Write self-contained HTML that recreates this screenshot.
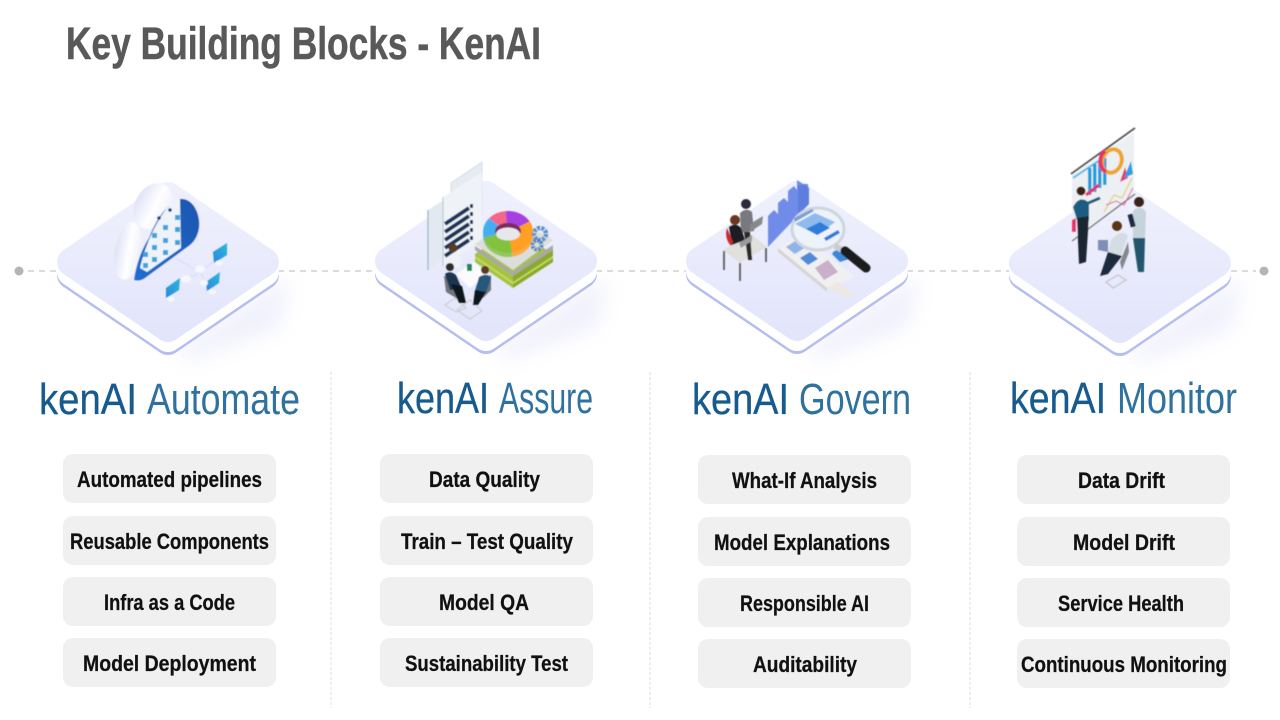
<!DOCTYPE html>
<html><head><meta charset="utf-8"><style>
html,body{margin:0;padding:0;background:#fff;width:1280px;height:720px;overflow:hidden}
svg{display:block}
text{font-family:"Liberation Sans",sans-serif}
.t{font-weight:bold;font-size:22px;fill:#111;stroke:#111;stroke-width:.25}
.h1{font-size:44px;fill:#175b8e;stroke:#175b8e;stroke-width:.3}
.h2{font-size:44px;fill:#2f719f}
.b{fill:#f0f0f0}
</style></head><body>
<svg width="1280" height="720" viewBox="0 0 1280 720" xmlns="http://www.w3.org/2000/svg">
<defs>
<linearGradient id="face" x1="0" y1="0" x2="0" y2="1"><stop offset="0" stop-color="#eff0fd"/><stop offset="1" stop-color="#e3e5fb"/></linearGradient>
<linearGradient id="cl" x1="0" y1="0" x2="1" y2="1"><stop offset="0" stop-color="#f6f7fe"/><stop offset="1" stop-color="#e2e5f8"/></linearGradient>
<linearGradient id="lobe" x1="0" y1="0" x2="1" y2="0"><stop offset="0" stop-color="#dfe2f6"/><stop offset=".55" stop-color="#ffffff"/><stop offset="1" stop-color="#eef0fb"/></linearGradient>
<linearGradient id="bl" x1="0" y1="1" x2="1" y2="0"><stop offset="0" stop-color="#1e6fd0"/><stop offset="1" stop-color="#1c55b0"/></linearGradient>
<linearGradient id="mon" x1="0" y1="1" x2="1" y2="0"><stop offset="0" stop-color="#2b88e0"/><stop offset="1" stop-color="#2ab8d8"/></linearGradient>
<filter id="sh" x="-30%" y="-30%" width="160%" height="160%"><feGaussianBlur stdDeviation="10"/></filter>
<filter id="s" x="-5%" y="-5%" width="110%" height="110%"><feGaussianBlur stdDeviation=".4"/></filter>
<g id="plat">
<polygon points="125,165 232,95 222,145 125,180" fill="#ccd0f5" opacity=".32" filter="url(#sh)"/>
<polygon points="14,93 111,27 208,93 111,159" fill="#b6bdf0" stroke="#b6bdf0" stroke-width="28" stroke-linejoin="round"/>
<polygon points="14,90 111,24 208,90 111,156" fill="#fff" stroke="#fff" stroke-width="28" stroke-linejoin="round"/>
<polygon points="14,80 111,14 208,80 111,146" fill="url(#face)" stroke="url(#face)" stroke-width="28" stroke-linejoin="round"/>
</g>
<g id="donut">
<path d="M508 232 L483.9 237.4 A25 21 0 0 1 488.8 218.5 Z" fill="#42b0f0"/>
<path d="M508 232 L488.8 218.5 A25 21 0 0 1 505.8 211.1 Z" fill="#f3668a"/>
<path d="M508 232 L505.8 211.1 A25 21 0 0 1 529.7 221.5 Z" fill="#a63fe0"/>
<path d="M508 232 L529.7 221.5 A25 21 0 0 1 512.3 252.7 Z" fill="#ffa024"/>
<path d="M508 232 L512.3 252.7 A25 21 0 0 1 483.9 237.4 Z" fill="#82c23e"/>
</g>
</defs>

<text x="66" y="59" font-size="45" font-weight="bold" fill="#595959" stroke="#595959" stroke-width=".5" textLength="475" lengthAdjust="spacingAndGlyphs">Key Building Blocks - KenAI</text>

<!-- connector -->
<g stroke="#c6c6c6" stroke-width="1.2" stroke-dasharray="6 5" fill="none">
<line x1="28" y1="271" x2="60" y2="271"/><line x1="278" y1="271" x2="378" y2="271"/><line x1="596" y1="271" x2="690" y2="271"/><line x1="907" y1="271" x2="1012" y2="271"/><line x1="1231" y1="271" x2="1256" y2="271"/>
</g>
<circle cx="19" cy="271" r="4.5" fill="#b5b5b5"/><circle cx="1264" cy="271" r="4.5" fill="#b5b5b5"/>

<use href="#plat" x="57" y="182"/><use href="#plat" x="375" y="181"/><use href="#plat" x="686" y="181"/><use href="#plat" x="1009" y="183"/>

<!-- illustration 1 -->
<g filter="url(#s)">
<path d="M133 281 C120 277 114 268 115 258 C116 248 119 232 124 226 C128 221 133 220 136 221 C136 205 142 192 155 185 C165 180 178 185 188 193 C196 199 200 206 200 212 L198 240 L140 282 Z" fill="url(#cl)"/>
<ellipse cx="128" cy="251" rx="13" ry="29" fill="url(#lobe)" transform="rotate(10 128 251)"/>
<ellipse cx="153" cy="206" rx="18" ry="24" fill="url(#lobe)" transform="rotate(28 153 206)"/>
<path d="M134 280 C136 266 141 250 149 238 C155 222 165 205 180 199 C188 198 197 205 199 220 C200 232 196 240 190 245 L145 278 C141 281 137 281 134 280 Z" fill="url(#bl)"/>
<path d="M140 268 C144 250 152 230 162 215 C168 205 175 200 180 199 L181 248 L147 272 Z" fill="#eef3fa"/>
<g fill="#3ea3dc">
<rect x="143" y="252" width="5" height="5"/><rect x="143" y="263" width="5" height="5"/><rect x="152" y="233" width="5" height="5"/><rect x="152" y="245" width="5" height="5"/><rect x="152" y="257" width="5" height="5"/><rect x="163" y="225" width="5" height="5"/><rect x="163" y="238" width="5" height="5"/><rect x="163" y="250" width="5" height="5"/><rect x="175" y="215" width="5" height="5"/><rect x="175" y="227" width="5" height="5"/><rect x="175" y="240" width="5" height="5"/>
</g>
<circle cx="159" cy="218" r="1.8" fill="#16407a"/><circle cx="170" cy="210" r="1.8" fill="#16407a"/>
<g stroke="#d3d9f0" stroke-width=".8" fill="none"><path d="M175 258 L200 272 M186 280 L200 272 L206 282 M200 272 L213 262"/></g>
<polygon points="213,252 227,243 227,255 214,263" fill="url(#mon)"/><polygon points="206,282 220,272 219,283 207,291" fill="url(#mon)"/><polygon points="166,288 180,278 179,290 166,298" fill="url(#mon)"/>
<g fill="#f4f7fc"><ellipse cx="219" cy="263" rx="4" ry="2.5"/><ellipse cx="212" cy="292" rx="4" ry="2.5"/><ellipse cx="171" cy="299" rx="4" ry="2.5"/><ellipse cx="200" cy="269" rx="5" ry="4"/><ellipse cx="186" cy="279" rx="5" ry="4"/><ellipse cx="204" cy="283" rx="4" ry="3"/></g>
</g>

<!-- illustration 2 -->
<g filter="url(#s)">
<polygon points="451,183 482,162 482,215 451,235" fill="#e6ebf2" stroke="#cfd9e4" stroke-width=".8"/>
<polygon points="428,210 470,183 470,240 428,270" fill="#e3e9f1"/>
<line x1="428" y1="210" x2="428" y2="270" stroke="#a5bdd2" stroke-width="1.5"/>
<polygon points="443,197 482,172 482,240 443,266" fill="#eff2f7"/>
<line x1="443" y1="197" x2="443" y2="266" stroke="#b0c5d8" stroke-width="1"/>
<g stroke="#1d3657" stroke-width="4"><line x1="445" y1="224" x2="469" y2="208"/><line x1="445" y1="232" x2="469" y2="216"/><line x1="445" y1="240" x2="469" y2="224"/><line x1="445" y1="248" x2="469" y2="232"/><line x1="445" y1="256" x2="469" y2="240"/></g>
<g fill="#1d3657"><rect x="470" y="204" width="3" height="4"/><rect x="470" y="212" width="3" height="4"/><rect x="470" y="220" width="3" height="4"/><rect x="470" y="228" width="3" height="4"/><rect x="470" y="236" width="3" height="4"/></g>
<polygon points="475,254 513,228 553,254 553,262 513,288 475,262" fill="#a5c33f"/>
<polygon points="513,274 553,248 553,262 513,288" fill="#8aa92d"/>
<polygon points="475,256 513,282 553,256 553,258 513,284 475,258" fill="#c4dc62"/>
<polygon points="475,246 475,250 513,276 553,250 553,245 513,272" fill="#a9a9a5"/>
<polygon points="475,244 513,218 553,240 513,270" fill="#dddddb"/>
<use href="#donut" y="4" opacity=".8"/>
<use href="#donut"/>
<ellipse cx="508" cy="231" rx="13" ry="8" fill="#7b2c5e"/>
<ellipse cx="508" cy="234" rx="12" ry="6.5" fill="#e7e7ec"/>
<circle cx="540" cy="234" r="6" fill="none" stroke="#5b92c8" stroke-width="4.5" stroke-dasharray="3 1.2"/>
<circle cx="537" cy="245" r="4.5" fill="none" stroke="#4d86c0" stroke-width="4" stroke-dasharray="2.5 1"/>
<polygon points="457,310 470,300 482,311 470,319" fill="none" stroke="#c9c9c9" stroke-width="1"/>
<polygon points="445,305 455,298 466,308 456,312" fill="none" stroke="#c9c9c9" stroke-width="1"/>
<polygon points="444,276 452,276 462,292 458,299 446,292" fill="#6f7378"/>
<polygon points="482,282 491,275 491,290 483,298 476,294" fill="#6f7378"/>
<polygon points="456,274 474,262 487,275 470,288" fill="#fbfbfe"/>
<rect x="467" y="264" width="5" height="7" fill="#1d8a5a"/>
<circle cx="453" cy="248" r="4.5" fill="#5a3a28"/><path d="M447 266 Q448 253 455 253 Q464 256 459 268 Z" fill="#eef2f6"/>
<circle cx="450" cy="267" r="4" fill="#2d2a28"/><path d="M445 274 Q450 270 456 275 L462 289 L450 290 Z" fill="#1f3550"/>
<path d="M451 284 L462 286 L466 303 L459 303 Z" fill="#10151f"/>
<circle cx="485" cy="270" r="4" fill="#5a3a28"/><path d="M479 277 Q487 272 491 278 L486 293 L475 291 Z" fill="#25587c"/>
<path d="M475 290 L486 292 L478 305 L473 305 Z" fill="#10151f"/>
</g>

<!-- illustration 3 -->
<g filter="url(#s)">
<path d="M768 216 L774 210 L778 214 L778 203 L784 198 L788 202 L788 191 L794 186 L797 190 L797 180 L803 184 L808 184 L809 200 L809 204 L768 247 Z" fill="#6f8ce8"/>
<polygon points="798,186 804,184 809,188 809,204 798,214" fill="#5d7ede"/>
<polygon points="778,248 801,234 855,277 827,288" fill="#f0f0f2"/>
<polygon points="778,248 827,288 827,292 778,252" fill="#d5d5d5"/>
<polygon points="827,288 838,282 855,295 848,298" fill="#ece9e4"/>
<polygon points="786,247 797,240 806,247 795,254" fill="#8fb4e8"/>
<polygon points="800,258 810,252 818,259 808,265" fill="#4f8ad8"/>
<polygon points="815,268 828,260 838,272 824,280" fill="#c9b0c8"/>
<path d="M832 254 a9 7 0 0 1 17 5 l-9 3 z" fill="#3c86d8"/>
<ellipse cx="818" cy="229" rx="26" ry="21" fill="#eef3fa" stroke="#cdd5df" stroke-width="3"/>
<polygon points="795,224 815,213 835,222 818,235" fill="#8fbbec"/>
<polygon points="806,229 820,222 830,228 817,235" fill="#2f7ddb"/>
<polygon points="795,222 814,211 812,209 794,218" fill="#7f9fd0"/>
<polygon points="824,238 838,230 840,233 826,241" fill="#2f7ddb"/>
<line x1="835" y1="246" x2="842" y2="250" stroke="#ccc" stroke-width="6"/>
<line x1="845" y1="251" x2="866" y2="268" stroke="#1a1a1a" stroke-width="9" stroke-linecap="round"/>
<polygon points="723,250 752,235 767,247 740,263" fill="#e0e0dc"/>
<g stroke="#5c5c5c" stroke-width="1.8"><line x1="724" y1="251" x2="724" y2="270"/><line x1="740" y1="263" x2="740" y2="281"/><line x1="766" y1="248" x2="766" y2="262"/></g>
<circle cx="746" cy="204" r="5" fill="#2a2a38"/>
<path d="M740 213 Q746 207 752 212 L754 231 L741 233 Z" fill="#77797e"/>
<polygon points="750,224 763,216 762,224 750,232" fill="#888"/>
<path d="M744 232 L750 232 L752 260 L748 260 Z" fill="#2b2b2b"/>
<circle cx="735" cy="220" r="5" fill="#6a3820"/>
<path d="M729 227 Q736 222 741 228 L745 240 L732 245 Z" fill="#1c1c22"/>
<path d="M727 228 Q724 238 731 246 L733 242 Z" fill="#c92a2a"/>
<polygon points="739,243 752,235 752,241 741,248" fill="#9a9a9a"/>
</g>

<!-- illustration 4 -->
<g filter="url(#s)">
<polygon points="1072,175 1134,132 1134,192 1072,240" fill="#ecf0f3"/>
<line x1="1071" y1="174" x2="1135" y2="128" stroke="#555" stroke-width="1.8"/>
<line x1="1072" y1="241" x2="1135" y2="194" stroke="#777" stroke-width="1.4"/>
<line x1="1073" y1="178" x2="1100" y2="160" stroke="#48b5e8" stroke-width="1.8"/>
<g fill="#1d9fdc"><rect x="1088" y="168" width="3.5" height="27"/><rect x="1093" y="164" width="3.5" height="28"/><rect x="1098" y="160" width="3.5" height="28"/><rect x="1103" y="158" width="3.5" height="27"/></g>
<ellipse cx="1112" cy="161" rx="9.5" ry="12" fill="none" stroke="#f0a52a" stroke-width="4" transform="rotate(20 1112 161)"/>
<path d="M1106 172 A10 12 0 0 1 1105 151" fill="none" stroke="#e8336d" stroke-width="4"/>
<polygon points="1120,182 1125,167 1128,178" fill="#e8336d"/><polygon points="1124,178 1131,161 1133,174" fill="#2d9fe0"/>
<line x1="1086" y1="195" x2="1099" y2="185" stroke="#e8336d" stroke-width="3"/>
<path d="M1104 212 L1114 195 L1122 198 L1132 178" fill="none" stroke="#e9c84a" stroke-width="1"/>
<path d="M1106 205 L1116 201 L1124 205 L1133 188" fill="none" stroke="#e0609a" stroke-width="1"/>
<path d="M1072 220 L1076 218 L1076 232 L1072 232 Z" fill="#e8336d"/>
<circle cx="1081" cy="191" r="4.5" fill="#3a2418"/>
<path d="M1073 207 Q1080 194 1089 203 L1089 220 L1077 220 Z" fill="#1e5c80"/>
<line x1="1086" y1="204" x2="1100" y2="198" stroke="#1e5c80" stroke-width="3"/>
<path d="M1077 218 L1089 216 L1086 262 L1079 264 Z" fill="#1f2630"/>
<circle cx="1139" cy="202" r="5" fill="#3a2418"/>
<path d="M1133 211 Q1140 204 1146 212 L1145 240 L1133 240 Z" fill="#c4d3dc"/>
<rect x="1129" y="214" width="5" height="13" fill="#1d2c44" transform="rotate(-15 1132 220)"/>
<path d="M1133 238 L1145 238 L1144 272 L1138 272 Z" fill="#24566e"/>
<polygon points="1120,262 1128,242 1129,252 1122,270" fill="#85888c"/>
<circle cx="1117" cy="226" r="5" fill="#5a3419"/>
<path d="M1111 240 Q1122 228 1128 236 L1121 256 L1108 253 Z" fill="#d5dde4"/>
<polygon points="1098,240 1098,250 1108,252 1108,240" fill="#7b8fb5"/>
<path d="M1108 252 L1122 256 L1108 274 L1100 276 Z" fill="#1c2a3d"/>
<polygon points="1106,282 1118,275 1126,280 1113,288" fill="none" stroke="#bbb" stroke-width="1"/>
</g>

<!-- headings -->
<text class="h1" x="39" y="414" textLength="98" lengthAdjust="spacingAndGlyphs">kenAI</text>
<text class="h2" x="147" y="414" textLength="153" lengthAdjust="spacingAndGlyphs">Automate</text>
<text class="h1" x="397" y="413" textLength="92" lengthAdjust="spacingAndGlyphs">kenAI</text>
<text class="h2" x="499" y="413" textLength="94" lengthAdjust="spacingAndGlyphs">Assure</text>
<text class="h1" x="692" y="414" textLength="97" lengthAdjust="spacingAndGlyphs">kenAI</text>
<text class="h2" x="799" y="414" textLength="112" lengthAdjust="spacingAndGlyphs">Govern</text>
<text class="h1" x="1010" y="413" textLength="96" lengthAdjust="spacingAndGlyphs">kenAI</text>
<text class="h2" x="1117" y="413" textLength="120" lengthAdjust="spacingAndGlyphs">Monitor</text>

<!-- dividers -->
<g stroke="#dcdcdc" stroke-width="1" stroke-dasharray="3 2"><line x1="331" y1="372" x2="331" y2="708"/><line x1="650" y1="372" x2="650" y2="708"/><line x1="970" y1="372" x2="970" y2="708"/></g>

<!-- boxes -->
<g class="b">
<rect x="63" y="454" width="213" height="49" rx="10"/><rect x="63" y="516" width="213" height="49" rx="10"/><rect x="63" y="577" width="213" height="49" rx="10"/><rect x="63" y="638" width="213" height="49" rx="10"/>
<rect x="380" y="454" width="213" height="49" rx="10"/><rect x="380" y="516" width="213" height="49" rx="10"/><rect x="380" y="577" width="213" height="49" rx="10"/><rect x="380" y="638" width="213" height="49" rx="10"/>
<rect x="698" y="455" width="213" height="49" rx="10"/><rect x="698" y="517" width="213" height="49" rx="10"/><rect x="698" y="578" width="213" height="49" rx="10"/><rect x="698" y="639" width="213" height="49" rx="10"/>
<rect x="1017" y="455" width="213" height="49" rx="10"/><rect x="1017" y="517" width="213" height="49" rx="10"/><rect x="1017" y="578" width="213" height="49" rx="10"/><rect x="1017" y="639" width="213" height="49" rx="10"/>
</g>

<text class="t" x="77" y="487" textLength="185" lengthAdjust="spacingAndGlyphs">Automated pipelines</text>
<text class="t" x="70" y="549" textLength="199" lengthAdjust="spacingAndGlyphs">Reusable Components</text>
<text class="t" x="104" y="610" textLength="131" lengthAdjust="spacingAndGlyphs">Infra as a Code</text>
<text class="t" x="83" y="671" textLength="173" lengthAdjust="spacingAndGlyphs">Model Deployment</text>

<text class="t" x="429" y="487" textLength="111" lengthAdjust="spacingAndGlyphs">Data Quality</text>
<text class="t" x="401" y="549" textLength="172" lengthAdjust="spacingAndGlyphs">Train – Test Quality</text>
<text class="t" x="439" y="610" textLength="90" lengthAdjust="spacingAndGlyphs">Model QA</text>
<text class="t" x="405" y="671" textLength="163" lengthAdjust="spacingAndGlyphs">Sustainability Test</text>

<text class="t" x="732" y="488" textLength="145" lengthAdjust="spacingAndGlyphs">What-If Analysis</text>
<text class="t" x="714" y="550" textLength="176" lengthAdjust="spacingAndGlyphs">Model Explanations</text>
<text class="t" x="740" y="611" textLength="129" lengthAdjust="spacingAndGlyphs">Responsible AI</text>
<text class="t" x="753" y="672" textLength="104" lengthAdjust="spacingAndGlyphs">Auditability</text>

<text class="t" x="1078" y="488" textLength="87" lengthAdjust="spacingAndGlyphs">Data Drift</text>
<text class="t" x="1073" y="550" textLength="102" lengthAdjust="spacingAndGlyphs">Model Drift</text>
<text class="t" x="1058" y="611" textLength="126" lengthAdjust="spacingAndGlyphs">Service Health</text>
<text class="t" x="1021" y="672" textLength="206" lengthAdjust="spacingAndGlyphs">Continuous Monitoring</text>
</svg>
</body></html>
